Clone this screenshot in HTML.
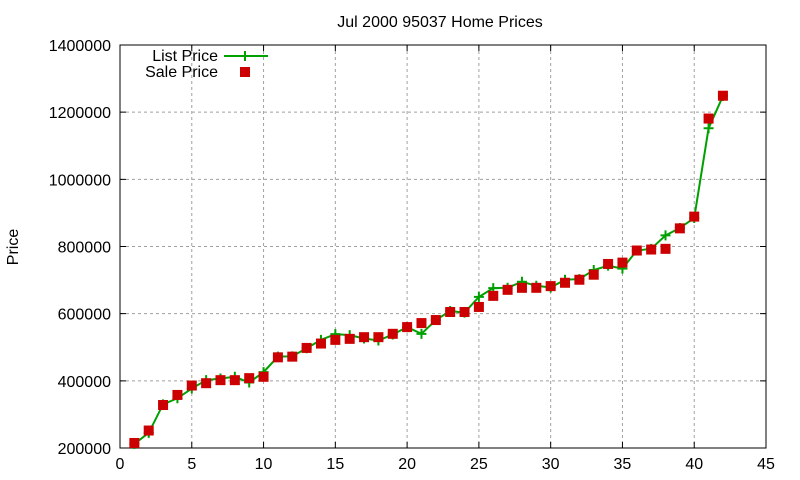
<!DOCTYPE html>
<html><head><meta charset="utf-8"><style>
body{margin:0;background:#fff}
svg{display:block;font-family:"Liberation Sans",sans-serif;font-size:16px}
</style></head><body>
<svg id="chart" width="800" height="480" xmlns="http://www.w3.org/2000/svg">
<text x="440" y="27" text-anchor="middle">Jul 2000 95037 Home Prices</text>
<text transform="translate(18,247) rotate(-90)" text-anchor="middle">Price</text>
<g id="grid"></g><g id="axes"></g><g id="series"></g>
<g>
<text x="218" y="61" text-anchor="end">List Price</text>
<line x1="224" y1="56" x2="268" y2="56" stroke="#00a000" stroke-width="2"/>
<path d="M240,56h10M245,51v10" stroke="#00a000" stroke-width="2"/>
<text x="218" y="77" text-anchor="end">Sale Price</text>
<rect x="240" y="67" width="10" height="10" fill="#cc0000"/>
</g>
</svg>
<script>
const xTicks=[0,5,10,15,20,25,30,35,40,45];
const yTicks=[200000,400000,600000,800000,1000000,1200000,1400000];
const listPrice=[212000,245000,330000,348000,377000,402000,407000,412000,395000,426000,472000,473000,497000,522000,539000,536000,526000,520000,538000,560000,540000,581000,608000,603000,650000,676000,677000,695000,683000,678000,701000,703000,730000,743000,734000,788000,793000,833000,855000,885000,1152000,1248000];
const salePrice=[215000,252000,328000,358000,386000,393000,402000,402000,408000,412000,470000,472000,498000,511000,522000,525000,530000,530000,540000,560000,572000,581000,605000,605000,620000,653000,671000,677000,677000,682000,692000,701000,716000,748000,752000,788000,791000,793000,854000,889000,1181000,1249000];
const L=120,R=766,T=45,B=448;
const sx=v=>L+(v-0)/(45-0)*(R-L);
const sy=v=>B-(v-200000)/(1400000-200000)*(B-T);
const NS="http://www.w3.org/2000/svg";
function mk(tag,attrs,parent){const e=document.createElementNS(NS,tag);for(const k in attrs)e.setAttribute(k,attrs[k]);document.getElementById(parent).appendChild(e);return e;}
xTicks.forEach(t=>{
 const x=sx(t);
 if(t>0&&t<45){const g=mk('line',{x1:x,y1:T,x2:x,y2:B,stroke:'#a0a0a0','stroke-dasharray':'3,3'},'grid');}
 const tk=mk('path',{d:`M${x},${B}v-6M${x},${T}v6`,stroke:'#000'},'axes');
 
 const lb=mk('text',{x:x,y:B+21,'text-anchor':'middle'},'axes');lb.textContent=t;
 
 
});
yTicks.forEach(t=>{
 const y=sy(t);
 if(t>200000&&t<1400000){const g=mk('line',{x1:L,y1:y,x2:R,y2:y,stroke:'#a0a0a0','stroke-dasharray':'3,3'},'grid');}
 const tk=mk('path',{d:`M${L},${y}h6M${R},${y}h-6`,stroke:'#000'},'axes');
 
 const lb=mk('text',{x:L-9,y:y+6,'text-anchor':'end'},'axes');lb.textContent=t;
 
 
});
const fr=mk('rect',{x:L,y:T,width:R-L,height:B-T,fill:'none',stroke:'#000'},'axes');

const pts=listPrice.map((v,i)=>sx(i+1)+','+sy(v)).join(' ');
const pl=mk('polyline',{points:pts,fill:'none',stroke:'#00a000','stroke-width':2},'series');

listPrice.forEach((v,i)=>{const x=sx(i+1),y=sy(v);
 const c=mk('path',{d:`M${x-5},${y}h10M${x},${y-5}v10`,stroke:'#00a000','stroke-width':2},'series');
 });
salePrice.forEach((v,i)=>{const x=sx(i+1),y=sy(v);
 const r=mk('rect',{x:x-5,y:y-5,width:10,height:10,fill:'#cc0000'},'series');
 });
</script>
</body></html>
